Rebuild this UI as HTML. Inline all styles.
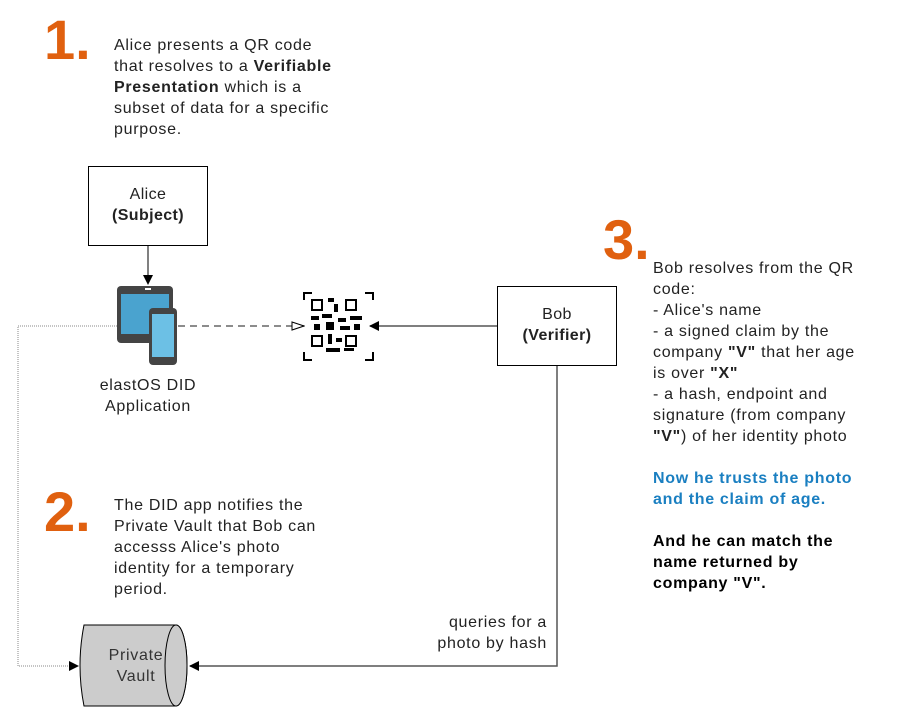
<!DOCTYPE html>
<html><head><meta charset="utf-8"><style>
body{margin:0;background:#fff;width:900px;height:722px;overflow:hidden;font-family:"Liberation Sans",sans-serif;}
svg{position:absolute;left:0;top:0}
.t{position:absolute;font-size:16px;line-height:21px;color:#222;white-space:nowrap;letter-spacing:0.7px}
.n{position:absolute;font-size:56px;font-weight:bold;color:#e0600f;line-height:56px;}
</style></head><body>
<svg width="900" height="722">
<defs>
<marker id="a" markerWidth="10" markerHeight="10" refX="9" refY="5" orient="auto" markerUnits="userSpaceOnUse"><path d="M0,0 L10,5 L0,10z" fill="#000"/></marker>
<marker id="o" markerWidth="14" markerHeight="10" refX="13" refY="5" orient="auto" markerUnits="userSpaceOnUse"><path d="M1,1 L13,5 L1,9z" fill="#fff" stroke="#000"/></marker>
</defs>
<rect x="88.5" y="166.5" width="119" height="79" fill="#fff" stroke="#000"/>
<rect x="497.5" y="286.5" width="119" height="79" fill="#fff" stroke="#000"/>
<line x1="148" y1="246" x2="148" y2="284" stroke="#000" marker-end="url(#a)"/>
<line x1="178" y1="326" x2="304" y2="326" stroke="#666" stroke-width="1.5" stroke-dasharray="7,5" marker-end="url(#o)"/>
<line x1="497" y1="326" x2="370" y2="326" stroke="#555" stroke-width="1.5" marker-end="url(#a)"/>
<polyline points="117,326 18,326 18,666 78,666" fill="none" stroke="#888" stroke-dasharray="1,1" marker-end="url(#a)"/>
<polyline points="557,366 557,666 190,666" fill="none" stroke="#555" stroke-width="1.5" marker-end="url(#a)"/>
<rect x="117" y="286" width="56" height="57" rx="4" fill="#444"/>
<rect x="121" y="294" width="48" height="40" fill="#4aa3cf"/>
<rect x="145" y="288" width="6" height="2" fill="#fff"/>
<rect x="149" y="308" width="28" height="57" rx="4" fill="#444"/>
<rect x="152" y="314" width="22" height="43" fill="#6cc0e5"/>
<g stroke="#000" stroke-width="2" fill="none">
<path d="M304,300v-7h8M365,293h8v7M304,352v8h8M365,360h8v-8"/>
<rect x="312" y="300" width="10" height="10"/><rect x="346" y="300" width="10" height="10"/><rect x="312" y="336" width="10" height="10"/><rect x="346" y="336" width="10" height="10"/>
</g>
<g fill="#000">
<rect x="328" y="298" width="6" height="4"/><rect x="334" y="304" width="4" height="8"/><rect x="311" y="316" width="8" height="4"/><rect x="322" y="314" width="10" height="4"/><rect x="338" y="318" width="8" height="4"/><rect x="350" y="316" width="12" height="4"/><rect x="314" y="324" width="6" height="6"/><rect x="326" y="322" width="8" height="8"/><rect x="340" y="326" width="10" height="4"/><rect x="354" y="324" width="6" height="6"/><rect x="328" y="334" width="4" height="10"/><rect x="336" y="338" width="6" height="4"/><rect x="326" y="348" width="14" height="4"/><rect x="344" y="348" width="10" height="3"/>
</g>
<path d="M84,625 H176 A11,40.5 0 0 1 176,706 H84 Q76,665.5 84,625z" fill="#ccc" stroke="#000"/>
<ellipse cx="176" cy="665.5" rx="11" ry="40.5" fill="#ccc" stroke="#000"/>
</svg>
<div class="n" style="left:44px;top:12px">1.</div>
<div class="n" style="left:44px;top:484px">2.</div>
<div class="n" style="left:603px;top:212px">3.</div>
<div class="t" style="left:114px;top:35px">Alice presents a QR code<br>that resolves to a <b>Verifiable</b><br><b>Presentation</b> which is a<br>subset of data for a specific<br>purpose.</div>
<div class="t" style="left:88px;top:184px;width:120px;text-align:center;letter-spacing:0.4px">Alice<br><b>(Subject)</b></div>
<div class="t" style="left:497px;top:304px;width:120px;text-align:center;letter-spacing:0.4px">Bob<br><b>(Verifier)</b></div>
<div class="t" style="left:78px;top:375px;width:140px;text-align:center">elastOS DID<br>Application</div>
<div class="t" style="left:114px;top:495px">The DID app notifies the<br>Private Vault that Bob can<br>accesss Alice's photo<br>identity for a temporary<br>period.</div>
<div class="t" style="left:390px;top:612px;width:157px;text-align:right">queries for a<br>photo by hash</div>
<div class="t" style="left:84px;top:645px;width:104px;text-align:center;color:#333">Private<br>Vault</div>
<div class="t" style="left:653px;top:258px">Bob resolves from the QR<br>code:<br>- Alice's name<br>- a signed claim by the<br>company <b>"V"</b> that her age<br>is over <b>"X"</b><br>- a hash, endpoint and<br>signature (from company<br><b>"V"</b>) of her identity photo<br><br><b style="color:#1a7fc1">Now he trusts the photo<br>and the claim of age.</b><br><br><b style="color:#000">And he can match the<br>name returned by<br>company "V".</b></div>
</body></html>
